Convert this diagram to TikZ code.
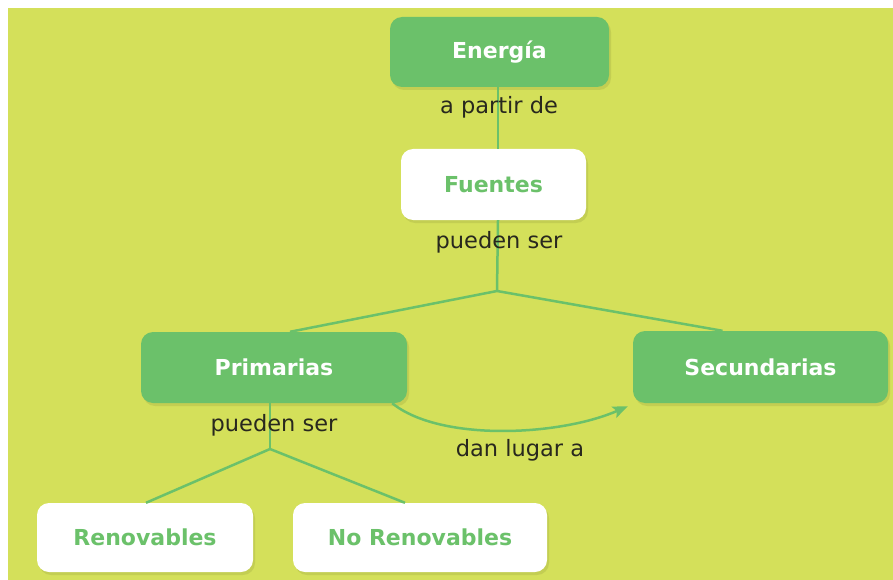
\documentclass[tikz,border=0pt]{standalone}
\usepackage{fontspec}
\setmainfont{DejaVu Sans}
\usetikzlibrary{arrows.meta,shadows,calc}
\definecolor{bgc}{RGB}{212,224,90}
\definecolor{nodegreen}{RGB}{107,193,106}
\definecolor{linegreen}{RGB}{107,193,106}
\definecolor{labc}{RGB}{40,40,30}
\begin{document}
\begin{tikzpicture}[x=1pt,y=-1pt,
  box/.style={rounded corners=12, inner sep=0pt, font=\fontsize{22}{26}\selectfont\bfseries,
    drop shadow={shadow xshift=2pt, shadow yshift=-3pt, fill=black, opacity=0.08}},
  gbox/.style={box, fill=nodegreen, text=white},
  wbox/.style={box, fill=white, text=nodegreen},
  lab/.style={font=\fontsize{22.5}{27}\selectfont, text=labc, inner sep=0pt},
  conn/.style={draw=linegreen, line width=2.5pt}]
\useasboundingbox (0,0) rectangle (893,580);
\fill[white] (0,0) rectangle (893,580);
\fill[bgc] (8,8) rectangle (893,580);

\node[gbox, minimum width=219, minimum height=70] (ener) at (499.5,52) {Energía};
\node[wbox, minimum width=185, minimum height=71] (fue) at (493.5,184.5) {Fuentes};
\node[gbox, minimum width=266, minimum height=71] (prim) at (274,367.5) {Primarias};
\node[gbox, minimum width=255, minimum height=72] (sec) at (760.5,367) {Secundarias};
\node[wbox, minimum width=216, minimum height=69] (ren) at (145,537.5) {Renovables};
\node[wbox, minimum width=254, minimum height=69] (nren) at (420,537.5) {No Renovables};

\coordinate (xl) at (498,0);
\coordinate (j1) at (497,291);
\coordinate (j2) at (270,449);

\draw[conn] (ener.south -| xl) -- (fue.north -| xl);
\draw[conn] (fue.south -| xl) -- (j1);
\draw[conn] (j1) -- ([xshift=16]prim.north);
\draw[conn] (j1) -- ([xshift=-38]sec.north);
\draw[conn] ([xshift=-4]prim.south) -- (j2);
\draw[conn] (j2) -- ([xshift=1]ren.north);
\draw[conn] (j2) -- ([xshift=-15]nren.north);
\draw[conn, -{Stealth[length=15pt,width=12pt,inset=3pt]}] ([xshift=-15]prim.south east) .. controls (440,442) and (560,436) .. ([xshift=-5,yshift=-3]sec.south west);

\node[lab] (l1) at (499,107) {a partir de};
\node[lab] (l2) at (499,242) {pueden ser};
\node[lab] (l3) at (274,425) {pueden ser};
\node[lab] (l4) at (520,450) {dan lugar a};
\end{tikzpicture}
\end{document}
